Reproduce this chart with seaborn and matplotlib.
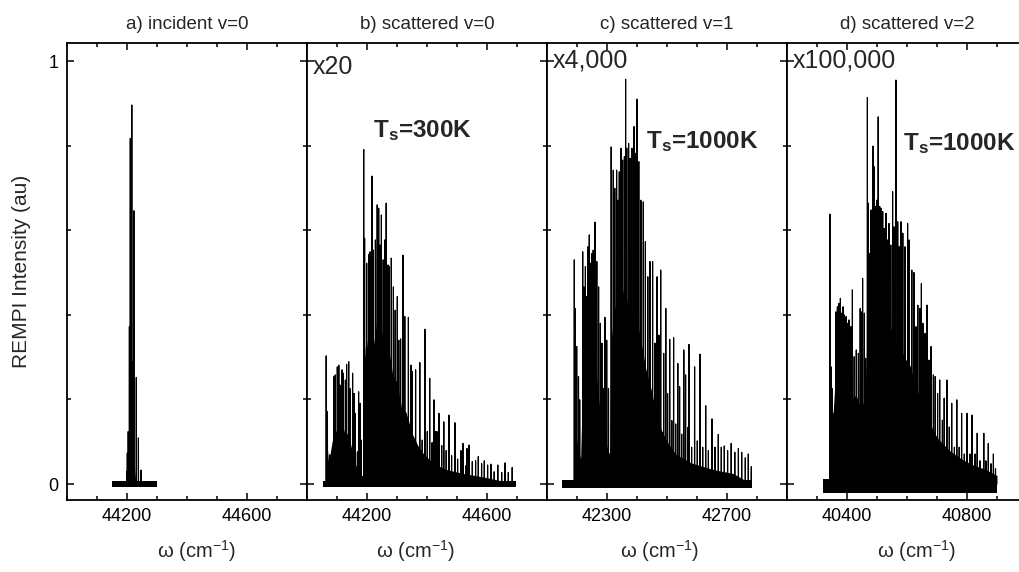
import matplotlib
matplotlib.use("Agg")
import matplotlib.pyplot as plt
import matplotlib.ticker as mticker
import seaborn as sns
import pandas as pd

# ---- data (wavenumber cm-1, normalised intensity) ----
titles = ["a) incident v=0", "b) scattered v=0", "c) scattered v=1", "d) scattered v=2"]
scales = ["", "x20", "x4,000", "x100,000"]
temps = ["", r"$\mathbf{T_s}$=300K", r"$\mathbf{T_s}$=1000K", r"$\mathbf{T_s}$=1000K"]
xlims = [(44000, 44800), (44000, 44800), (42100, 42900), (40200, 41000)]
major_ticks = [[44200, 44600], [44200, 44600], [42300, 42700], [40400, 40800]]

# baseline extent and noise band of each scan
base_span = [(44150, 44300), (44053, 44697), (42149, 42782), (40321, 40901)]
base_lo = [-0.008, -0.006, -0.009, -0.022]
base_hi = [0.008, 0.006, 0.009, 0.012]

# resolved lines
a_w = [44199, 44201, 44204, 44208, 44211, 44216, 44219, 44223, 44231, 44238, 44247]
a_h = [0.030, 0.073, 0.124, 0.372, 0.817, 0.896, 0.289, 0.646, 0.252, 0.109, 0.033]

b_w = [44064, 44068, 44076, 44090, 44094, 44101, 44106, 44110, 44117, 44121,
       44128, 44132, 44139, 44143, 44152, 44157, 44161, 44168, 44172, 44177,
       44181, 44189, 44192, 44199, 44206, 44210, 44217, 44221, 44228, 44234,
       44239, 44243, 44248, 44254, 44259, 44264, 44270, 44274, 44281, 44288,
       44294, 44301, 44306, 44312, 44320, 44326, 44338, 44347, 44351, 44362,
       44376, 44384, 44393, 44401, 44409, 44417, 44423, 44429, 44433, 44440,
       44449, 44456, 44464, 44473, 44482, 44493, 44502, 44513, 44520, 44529,
       44533, 44540, 44551, 44562, 44571, 44582, 44591, 44602, 44613, 44624,
       44636, 44649, 44660, 44671, 44684]
b_h = [0.303, 0.171, 0.069, 0.254, 0.258, 0.277, 0.281, 0.234, 0.270, 0.262,
       0.246, 0.283, 0.289, 0.226, 0.262, 0.214, 0.167, 0.076, 0.218, 0.191,
       0.104, 0.791, 0.581, 0.522, 0.543, 0.549, 0.728, 0.553, 0.577, 0.660,
       0.652, 0.565, 0.636, 0.530, 0.577, 0.664, 0.518, 0.514, 0.534, 0.466,
       0.411, 0.443, 0.340, 0.343, 0.541, 0.396, 0.394, 0.281, 0.266, 0.270,
       0.287, 0.104, 0.366, 0.124, 0.250, 0.098, 0.199, 0.124, 0.124, 0.167,
       0.091, 0.147, 0.079, 0.163, 0.067, 0.145, 0.059, 0.079, 0.096, 0.043,
       0.084, 0.092, 0.053, 0.055, 0.065, 0.048, 0.055, 0.045, 0.047, 0.029,
       0.045, 0.027, 0.050, 0.027, 0.039]

c_w = [42191, 42194, 42199, 42205, 42209, 42219, 42223, 42228, 42232, 42237,
       42241, 42245, 42250, 42254, 42260, 42266, 42272, 42278, 42283, 42287,
       42293, 42299, 42305, 42314, 42321, 42326, 42332, 42337, 42341, 42347,
       42352, 42358, 42362, 42366, 42372, 42377, 42383, 42390, 42394, 42400,
       42406, 42413, 42421, 42428, 42436, 42443, 42452, 42460, 42467, 42473,
       42479, 42489, 42496, 42502, 42509, 42516, 42522, 42529, 42536, 42542,
       42549, 42556, 42562, 42569, 42573, 42582, 42592, 42601, 42610, 42619,
       42629, 42638, 42650, 42660, 42671, 42681, 42691, 42702, 42714, 42726,
       42738, 42749, 42761, 42771, 42781]
c_h = [0.530, 0.415, 0.325, 0.254, 0.199, 0.549, 0.466, 0.514, 0.443, 0.561,
       0.589, 0.522, 0.545, 0.553, 0.619, 0.526, 0.466, 0.380, 0.333, 0.226,
       0.394, 0.340, 0.226, 0.797, 0.742, 0.699, 0.742, 0.671, 0.738, 0.794,
       0.766, 0.774, 0.957, 0.794, 0.805, 0.770, 0.794, 0.845, 0.782, 0.910,
       0.762, 0.671, 0.667, 0.573, 0.490, 0.526, 0.526, 0.333, 0.490, 0.352,
       0.506, 0.309, 0.415, 0.214, 0.342, 0.150, 0.346, 0.142, 0.285, 0.230,
       0.118, 0.317, 0.258, 0.134, 0.330, 0.087, 0.277, 0.102, 0.307, 0.087,
       0.185, 0.079, 0.154, 0.087, 0.117, 0.087, 0.090, 0.079, 0.096, 0.075,
       0.084, 0.075, 0.062, 0.071, 0.041]

d_w = [40343, 40347, 40350, 40355, 40363, 40368, 40373, 40378, 40382, 40387,
       40391, 40397, 40402, 40407, 40413, 40418, 40424, 40431, 40438, 40444,
       40449, 40452, 40458, 40462, 40468, 40471, 40475, 40480, 40487, 40491,
       40495, 40500, 40504, 40509, 40513, 40519, 40524, 40530, 40535, 40540,
       40546, 40552, 40557, 40563, 40569, 40574, 40580, 40586, 40593, 40602,
       40607, 40616, 40623, 40630, 40636, 40643, 40648, 40653, 40660, 40667,
       40673, 40680, 40688, 40694, 40702, 40709, 40718, 40724, 40733, 40741,
       40749, 40758, 40766, 40774, 40782, 40791, 40800, 40810, 40817, 40827,
       40834, 40843, 40856, 40863, 40871, 40880, 40888, 40895]
d_h = [0.638, 0.277, 0.226, 0.167, 0.407, 0.419, 0.427, 0.439, 0.404, 0.419,
       0.400, 0.396, 0.380, 0.388, 0.372, 0.459, 0.301, 0.317, 0.309, 0.415,
       0.407, 0.486, 0.404, 0.297, 0.914, 0.664, 0.545, 0.648, 0.799, 0.750,
       0.656, 0.671, 0.868, 0.656, 0.652, 0.644, 0.604, 0.640, 0.577, 0.616,
       0.565, 0.691, 0.608, 0.955, 0.620, 0.561, 0.620, 0.593, 0.561, 0.616,
       0.577, 0.506, 0.500, 0.372, 0.423, 0.415, 0.474, 0.380, 0.356, 0.423,
       0.293, 0.325, 0.258, 0.254, 0.214, 0.246, 0.151, 0.203, 0.246, 0.135,
       0.191, 0.087, 0.199, 0.087, 0.167, 0.071, 0.167, 0.071, 0.163, 0.071,
       0.120, 0.055, 0.120, 0.055, 0.096, 0.048, 0.071, 0.036]

# unresolved (densely overlapping) part of each spectrum
a_env_w = [44198, 44203, 44208, 44213, 44218, 44223, 44230]
a_env_h = [0.0, 0.05, 0.12, 0.20, 0.12, 0.05, 0.0]
b_env_w = [44055, 44062, 44066, 44072, 44086, 44100, 44112, 44125, 44140, 44150,
           44160, 44170, 44180, 44186, 44190, 44197, 44205, 44213, 44222, 44232,
           44242, 44252, 44262, 44272, 44285, 44300, 44315, 44330, 44350, 44370,
           44390, 44420, 44460, 44520, 44600, 44697]
b_env_h = [0.0, 0.0, 0.10, 0.05, 0.11, 0.13, 0.10, 0.13, 0.11, 0.08,
           0.05, 0.03, 0.02, 0.02, 0.28, 0.35, 0.30, 0.37, 0.33, 0.38,
           0.34, 0.36, 0.30, 0.32, 0.26, 0.24, 0.18, 0.17, 0.12, 0.09,
           0.07, 0.05, 0.035, 0.025, 0.015, 0.0]
c_env_w = [42150, 42188, 42191, 42196, 42204, 42212, 42218, 42228, 42240, 42252,
           42262, 42272, 42282, 42292, 42302, 42309, 42313, 42322, 42332, 42342,
           42352, 42362, 42372, 42382, 42392, 42402, 42415, 42430, 42445, 42460,
           42480, 42500, 42530, 42580, 42650, 42720, 42782]
c_env_h = [0.0, 0.0, 0.18, 0.12, 0.08, 0.06, 0.22, 0.26, 0.30, 0.27,
           0.28, 0.20, 0.14, 0.12, 0.08, 0.07, 0.33, 0.40, 0.44, 0.40,
           0.46, 0.42, 0.45, 0.40, 0.43, 0.38, 0.33, 0.27, 0.23, 0.18,
           0.13, 0.10, 0.07, 0.05, 0.035, 0.025, 0.0]
d_env_w = [40321, 40341, 40344, 40350, 40358, 40370, 40385, 40400, 40415, 40430,
           40445, 40460, 40466, 40475, 40485, 40495, 40505, 40515, 40530, 40545,
           40560, 40575, 40590, 40610, 40630, 40650, 40670, 40700, 40740, 40780,
           40820, 40860, 40900]
d_env_h = [0.01, 0.01, 0.20, 0.12, 0.22, 0.25, 0.22, 0.24, 0.20, 0.21,
           0.18, 0.20, 0.34, 0.38, 0.35, 0.40, 0.36, 0.39, 0.35, 0.37,
           0.33, 0.34, 0.30, 0.28, 0.23, 0.19, 0.15, 0.11, 0.08, 0.06,
           0.045, 0.035, 0.02]

lines_w = [a_w, b_w, c_w, d_w]
lines_h = [a_h, b_h, c_h, d_h]
env_w = [a_env_w, b_env_w, c_env_w, d_env_w]
env_h = [a_env_h, b_env_h, c_env_h, d_env_h]

# ---- style ----
sns.set_theme(style="ticks")
plt.rcParams["font.family"] = ["Liberation Sans", "DejaVu Sans"]
plt.rcParams["mathtext.fontset"] = "custom"
plt.rcParams["mathtext.rm"] = "Liberation Sans"
plt.rcParams["mathtext.it"] = "Liberation Sans:italic"
plt.rcParams["mathtext.bf"] = "Liberation Sans:bold"
plt.rcParams["axes.linewidth"] = 1.3

fig = plt.figure(figsize=(10.19, 5.72), dpi=100)
W, H = 1019, 572
half = 0.4  # half width of a drawn line (cm-1)

scale_y = [0, 0.947, 0.961, 0.961]
temp_x = [0, 0.274, 0.4125, 0.485]
temp_y = [0, 0.82, 0.794, 0.79]
xlab_pos = [0.54, 0.454, 0.47, 0.54]

for i in range(4):
    ax = fig.add_axes([(67 + 240 * i) / W, 1 - 500 / H, 240 / W, 457 / H])

    # baseline noise band
    ax.fill_between(list(base_span[i]), base_lo[i], base_hi[i], color="black", lw=0)
    # dense unresolved part
    ax.fill_between(env_w[i], 0, env_h[i], color="black", lw=0)

    # resolved lines as narrow spikes
    xs, ys = [], []
    for w, h in zip(lines_w[i], lines_h[i]):
        xs += [w - half, w, w + half]
        ys += [0, h, 0]
    df = pd.DataFrame({"w": xs, "I": ys})
    sns.lineplot(data=df, x="w", y="I", ax=ax, color="black", lw=0.85,
                 sort=False, estimator=None)

    ax.set_xlim(*xlims[i])
    ax.set_ylim(-0.0378, 1.0426)
    ax.xaxis.set_major_locator(mticker.FixedLocator(major_ticks[i]))
    ax.xaxis.set_minor_locator(mticker.MultipleLocator(100))
    ax.yaxis.set_major_locator(mticker.FixedLocator([0, 1]))
    ax.yaxis.set_minor_locator(mticker.FixedLocator([0.2, 0.4, 0.6, 0.8]))
    ax.tick_params(which="both", direction="in", top=True, right=True,
                   width=1.1, labelsize=13, pad=6, colors="black")
    ax.tick_params(which="major", length=5)
    ax.tick_params(which="minor", length=3)
    if i > 0:
        ax.tick_params(axis="y", labelleft=False)
    for sp in ax.spines.values():
        sp.set_color("black")

    ax.set_title(titles[i], fontsize=13.5, pad=10)
    ax.set_xlabel("ω (cm$^{-1}$)", fontsize=14.5)
    ax.set_ylabel("")
    ax.xaxis.set_label_coords(xlab_pos[i], -0.112)
    ax.xaxis.label.set_va("center")

    if scales[i]:
        ax.text(0.025, scale_y[i], scales[i], transform=ax.transAxes,
                fontsize=18, ha="left", va="center")
    if temps[i]:
        ax.text(temp_x[i], temp_y[i], temps[i], transform=ax.get_yaxis_transform(),
                fontsize=17.5, fontweight="bold", ha="left", va="baseline")

fig.text(22 / W, 1 - 271 / H, "REMPI Intensity (au)", rotation=90, fontsize=15,
         ha="center", va="center")

fig.savefig("out.png", dpi=100)
